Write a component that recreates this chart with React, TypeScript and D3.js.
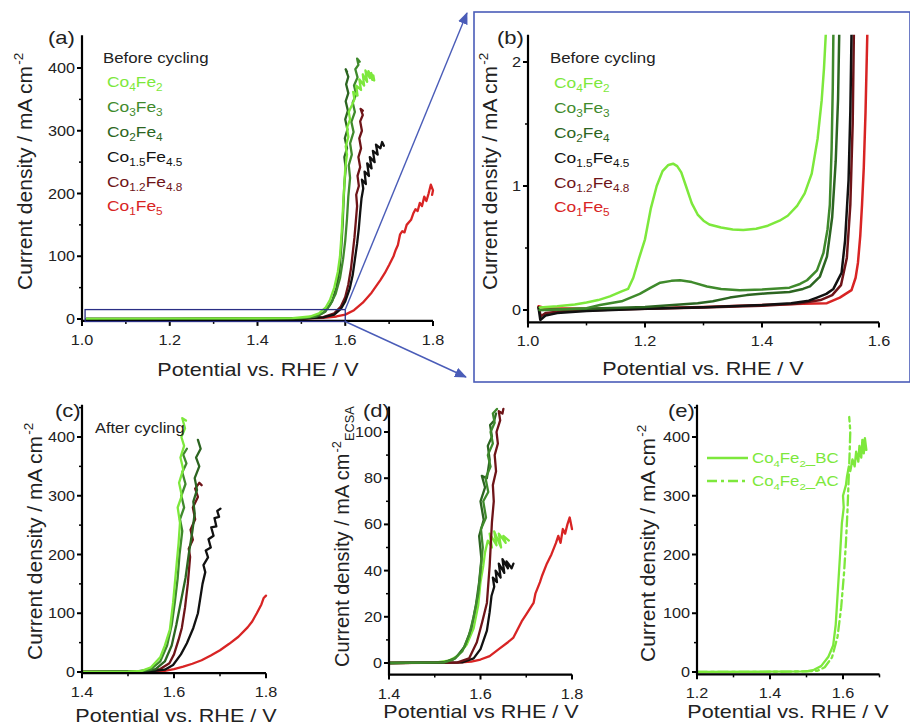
import React from "react";
import * as d3 from "d3";

// ---------------- DATA ----------------
const SERIES = ["Co4Fe2", "Co3Fe3", "Co2Fe4", "Co1.5Fe4.5", "Co1.2Fe4.8", "Co1Fe5"];

// Panel (a) before cycling, full range
const a_Co4Fe2 = [[1.01,0.3],[1.2,0.5],[1.4,0.8],[1.48,1.5],[1.52,4],[1.54,9],[1.555,18],[1.565,30],[1.575,50],[1.583,75],[1.588,100],[1.592,140],[1.595,180],[1.598,215],[1.6,240],[1.604,262],[1.601,275],[1.607,290],[1.604,305],[1.611,318],[1.608,330],[1.616,342],[1.621,350],[1.618,362],[1.628,356],[1.625,372],[1.636,365],[1.632,382],[1.643,372],[1.64,390],[1.65,378],[1.646,396],[1.656,384],[1.653,395],[1.662,381],[1.659,392],[1.666,380],[1.664,388]];
const a_Co3Fe3 = [[1.01,0.2],[1.2,0.3],[1.4,0.6],[1.5,1.5],[1.53,4],[1.55,10],[1.565,22],[1.578,40],[1.588,65],[1.595,95],[1.6,125],[1.604,160],[1.607,195],[1.611,225],[1.608,245],[1.615,262],[1.611,280],[1.619,298],[1.614,314],[1.622,330],[1.617,345],[1.625,358],[1.62,372],[1.628,385],[1.623,398],[1.63,405],[1.627,415],[1.633,410]];
const a_Co2Fe4 = [[1.01,0.2],[1.2,0.3],[1.4,0.5],[1.5,1.2],[1.535,4],[1.555,12],[1.57,28],[1.58,50],[1.587,80],[1.591,115],[1.594,150],[1.596,185],[1.598,215],[1.601,240],[1.598,258],[1.604,272],[1.599,288],[1.605,302],[1.6,318],[1.606,332],[1.601,347],[1.607,360],[1.602,374],[1.607,386],[1.601,398],[1.604,394]];
const a_Co15Fe45 = [[1.01,-0.5],[1.3,0.1],[1.5,0.6],[1.55,2.5],[1.575,7],[1.59,16],[1.6,28],[1.61,48],[1.617,70],[1.622,95],[1.627,120],[1.631,145],[1.634,170],[1.637,192],[1.641,208],[1.638,222],[1.647,215],[1.644,235],[1.654,228],[1.65,248],[1.66,240],[1.656,258],[1.667,250],[1.663,268],[1.674,262],[1.67,278],[1.68,272],[1.684,282],[1.688,276]];
const a_Co12Fe48 = [[1.01,0],[1.3,0.2],[1.5,0.8],[1.55,3],[1.575,9],[1.59,20],[1.6,35],[1.607,55],[1.613,80],[1.617,105],[1.621,130],[1.624,155],[1.627,180],[1.625,198],[1.631,212],[1.628,228],[1.634,242],[1.63,258],[1.636,272],[1.632,288],[1.638,300],[1.634,315],[1.64,325],[1.635,335],[1.64,332]];
const a_Co1Fe5 = [[1.01,-0.5],[1.2,-0.3],[1.4,0],[1.5,0.8],[1.55,2],[1.58,4],[1.6,7],[1.62,14],[1.64,26],[1.66,42],[1.68,62],[1.69,73],[1.7,86],[1.71,100],[1.715,110],[1.72,118],[1.725,135],[1.73,140],[1.735,138],[1.74,150],[1.75,158],[1.755,168],[1.76,175],[1.765,172],[1.77,185],[1.775,180],[1.78,195],[1.785,188],[1.79,200],[1.795,214],[1.8,205],[1.798,198]];

// Panel (b) zoom 1.0–1.6 V
const b_Co4Fe2 = [[1.02,0.02],[1.05,0.03],[1.08,0.045],[1.1,0.06],[1.12,0.08],[1.14,0.11],[1.16,0.15],[1.171,0.17],[1.18,0.26],[1.19,0.42],[1.2,0.57],[1.21,0.82],[1.22,1.0],[1.23,1.12],[1.24,1.17],[1.248,1.18],[1.255,1.16],[1.262,1.11],[1.27,1.0],[1.28,0.86],[1.29,0.77],[1.3,0.72],[1.31,0.69],[1.33,0.665],[1.35,0.65],[1.368,0.645],[1.39,0.655],[1.41,0.68],[1.43,0.72],[1.444,0.76],[1.46,0.84],[1.473,0.94],[1.485,1.1],[1.495,1.38],[1.502,1.69],[1.506,1.95],[1.509,2.22]];
const b_Co3Fe3 = [[1.02,0.0],[1.05,0.005],[1.1,0.015],[1.123,0.04],[1.16,0.07],[1.191,0.13],[1.21,0.18],[1.226,0.22],[1.245,0.235],[1.26,0.24],[1.28,0.225],[1.306,0.19],[1.33,0.17],[1.362,0.16],[1.4,0.165],[1.447,0.18],[1.465,0.21],[1.477,0.24],[1.494,0.32],[1.505,0.46],[1.512,0.65],[1.516,0.85],[1.519,1.3],[1.521,1.8],[1.522,2.22]];
const b_Co2Fe4 = [[1.02,0.0],[1.1,0.01],[1.2,0.025],[1.248,0.04],[1.29,0.055],[1.316,0.07],[1.345,0.1],[1.374,0.12],[1.41,0.135],[1.447,0.145],[1.47,0.17],[1.482,0.19],[1.499,0.27],[1.511,0.43],[1.52,0.75],[1.526,1.2],[1.53,1.7],[1.532,2.22]];
const b_Co15Fe45 = [[1.018,0.02],[1.021,-0.08],[1.03,-0.045],[1.05,-0.025],[1.1,-0.008],[1.2,0.01],[1.3,0.022],[1.4,0.04],[1.45,0.055],[1.48,0.075],[1.494,0.1],[1.51,0.13],[1.522,0.17],[1.536,0.3],[1.542,0.56],[1.548,1.05],[1.551,1.6],[1.553,2.22]];
const b_Co12Fe48 = [[1.018,0.02],[1.022,-0.05],[1.03,-0.025],[1.06,-0.01],[1.15,0.005],[1.3,0.02],[1.4,0.035],[1.46,0.05],[1.5,0.08],[1.52,0.12],[1.535,0.2],[1.545,0.42],[1.551,0.85],[1.555,1.5],[1.557,2.22]];
const b_Co1Fe5 = [[1.018,0.03],[1.03,0.015],[1.1,0.01],[1.2,0.015],[1.3,0.025],[1.4,0.04],[1.47,0.05],[1.511,0.055],[1.533,0.1],[1.553,0.16],[1.56,0.26],[1.564,0.38],[1.568,0.6],[1.571,0.85],[1.574,1.15],[1.577,1.6],[1.58,2.22]];

// Panel (c) after cycling
const c_Co4Fe2 = [[1.4,0],[1.5,0.5],[1.53,2],[1.55,8],[1.57,25],[1.58,45],[1.591,72],[1.598,118],[1.606,186],[1.61,220],[1.613,254],[1.608,280],[1.617,300],[1.611,322],[1.62,345],[1.614,365],[1.622,385],[1.616,400],[1.624,415],[1.618,432],[1.626,428]];
const c_Co3Fe3 = [[1.4,0],[1.52,1],[1.55,5],[1.57,18],[1.585,45],[1.595,80],[1.602,120],[1.608,160],[1.612,200],[1.618,240],[1.613,260],[1.622,280],[1.616,300],[1.625,320],[1.618,340],[1.627,355],[1.62,370],[1.628,380]];
const c_Co2Fe4 = [[1.4,0],[1.53,1],[1.56,5],[1.58,18],[1.595,45],[1.605,80],[1.615,120],[1.625,160],[1.632,200],[1.64,240],[1.645,270],[1.642,290],[1.65,310],[1.645,330],[1.655,350],[1.648,365],[1.658,380],[1.652,395]];
const c_Co15Fe45 = [[1.4,0],[1.55,1],[1.58,4],[1.598,12],[1.615,30],[1.628,49],[1.642,75],[1.652,100],[1.657,125],[1.662,150],[1.668,170],[1.664,182],[1.674,195],[1.669,207],[1.68,212],[1.675,226],[1.686,232],[1.681,246],[1.692,248],[1.688,262],[1.698,264],[1.694,274],[1.701,278]];
const c_Co12Fe48 = [[1.4,0],[1.54,1],[1.57,5],[1.59,15],[1.6,30],[1.61,55],[1.617,75],[1.624,110],[1.63,150],[1.635,196],[1.632,210],[1.641,225],[1.636,242],[1.646,260],[1.641,280],[1.652,298],[1.646,312],[1.655,322],[1.66,318]];
const c_Co1Fe5 = [[1.4,0],[1.55,0.5],[1.58,2],[1.6,5],[1.62,9],[1.64,14],[1.66,20],[1.68,28],[1.7,37],[1.72,48],[1.74,60],[1.76,76],[1.77,86],[1.78,100],[1.79,115],[1.795,126],[1.8,130]];

// Panel (d) ECSA-normalised
const d_Co4Fe2 = [[1.4,0],[1.5,0.2],[1.53,1],[1.55,3],[1.57,8],[1.585,15],[1.595,25],[1.6,35],[1.606,42],[1.61,48],[1.616,53],[1.625,50],[1.62,56],[1.635,51],[1.63,57],[1.645,50],[1.64,56],[1.655,52],[1.65,55],[1.662,53]];
const d_Co3Fe3 = [[1.4,0],[1.52,0.3],[1.54,1.5],[1.56,5],[1.575,12],[1.585,20],[1.595,30],[1.6,40],[1.605,50],[1.601,58],[1.612,63],[1.606,70],[1.617,74],[1.611,80],[1.622,85],[1.616,90],[1.627,95],[1.622,100],[1.631,104],[1.627,108],[1.636,110]];
const d_Co2Fe4 = [[1.4,0],[1.52,0.3],[1.545,2],[1.565,7],[1.58,15],[1.59,25],[1.597,35],[1.602,45],[1.597,55],[1.607,62],[1.6,70],[1.61,76],[1.603,81],[1.614,80],[1.62,88],[1.616,94],[1.625,98],[1.621,103],[1.63,105],[1.634,108]];
const d_Co15Fe45 = [[1.4,0],[1.56,0.3],[1.585,2],[1.6,6],[1.614,14],[1.62,22],[1.624,29],[1.63,33],[1.627,37],[1.636,35],[1.633,40],[1.644,37],[1.64,43],[1.652,39],[1.648,45],[1.66,41],[1.657,44],[1.668,41],[1.672,43]];
const d_Co12Fe48 = [[1.4,0],[1.55,0.3],[1.575,2],[1.592,9],[1.604,18],[1.614,26],[1.62,42],[1.625,61],[1.629,70],[1.627,77],[1.634,83],[1.631,90],[1.638,95],[1.635,100],[1.643,105],[1.64,109],[1.648,108],[1.65,110]];
const d_Co1Fe5 = [[1.4,0],[1.55,0.2],[1.58,0.6],[1.6,1.5],[1.62,3],[1.64,6],[1.66,9],[1.672,11],[1.69,18],[1.7,21],[1.716,26],[1.72,30],[1.73,35],[1.735,38],[1.745,43],[1.755,47],[1.765,52],[1.77,55],[1.775,52],[1.78,58],[1.785,56],[1.79,60],[1.795,63],[1.8,58]];

// Panel (e) Co4Fe2 before / after cycling
const e_BC = [[1.2,0],[1.4,0.5],[1.5,1],[1.518,3],[1.54,10],[1.56,26],[1.573,45],[1.58,80],[1.586,140],[1.592,200],[1.597,254],[1.602,280],[1.6,300],[1.608,318],[1.611,333],[1.616,350],[1.62,342],[1.626,362],[1.632,350],[1.636,375],[1.642,358],[1.645,385],[1.65,365],[1.653,395],[1.657,372],[1.66,390],[1.664,378],[1.66,398],[1.655,383]];
const e_AC = [[1.2,0],[1.45,0.5],[1.53,2],[1.55,8],[1.57,25],[1.585,60],[1.595,110],[1.603,170],[1.608,220],[1.612,270],[1.615,320],[1.618,370],[1.62,410],[1.617,434]];

const LEGEND_E = ["Co4Fe2_BC", "Co4Fe2_AC"];

const A_X_TICKS = [1.0, 1.2, 1.4, 1.6, 1.8];
const A_Y_TICKS = [0, 100, 200, 300, 400];
const B_X_TICKS = [1.0, 1.2, 1.4, 1.6];
const B_Y_TICKS = [0, 1, 2];
const C_X_TICKS = [1.4, 1.6, 1.8];
const D_Y_TICKS = [0, 20, 40, 60, 80, 100];
const E_X_TICKS = [1.2, 1.4, 1.6];

// ---------------- STYLE ----------------
const FONT = "'Liberation Sans', Arial, Helvetica, sans-serif";
const SX = 1.16;
const COLORS: Record<string, string> = {
  "Co4Fe2": "#7de83c",
  "Co3Fe3": "#3f8a2c",
  "Co2Fe4": "#2c6521",
  "Co1.5Fe4.5": "#111111",
  "Co1.2Fe4.8": "#6e1418",
  "Co1Fe5": "#d82424",
};
const BLUE = "#4a5cb8";
const TXT = "#222";

let measureCtx: CanvasRenderingContext2D | null = null;
function measure(text: string, size: number): number {
  if (!measureCtx && typeof document !== "undefined") {
    measureCtx = document.createElement("canvas").getContext("2d");
  }
  if (!measureCtx) return text.length * size * 0.5;
  measureCtx.font = `${size}px 'Liberation Sans', Arial, sans-serif`;
  return measureCtx.measureText(text).width;
}

function HText({ x, y, size, anchor = "start", fill = TXT, children }: any) {
  return (
    <text transform={`translate(${x},${y}) scale(${SX},1)`} fontSize={size} textAnchor={anchor} fill={fill} fontFamily={FONT}>
      {children}
    </text>
  );
}

function Formula({ name, size }: { name: string; size: number }) {
  const m = name.match(/^Co([\d.]+)Fe([\d.]+)(.*)$/);
  if (!m) return <tspan>{name}</tspan>;
  const s = size * 0.68;
  const dd = size * 0.28;
  return (
    <>
      <tspan>Co</tspan>
      <tspan fontSize={s} dy={dd}>{m[1]}</tspan>
      <tspan dy={-dd}>Fe</tspan>
      <tspan fontSize={s} dy={dd}>{m[2]}</tspan>
      {m[3] ? <tspan dy={-dd}>{m[3]}</tspan> : null}
    </>
  );
}

type PanelCfg = {
  x: d3.ScaleLinear<number, number>;
  y: d3.ScaleLinear<number, number>;
  xMin: number; xMax: number; yMin: number; yMax: number;
  xMajor: number[]; xMinor: number[]; yMajor: number[]; yMinor: number[];
  xFmt: (v: number) => string; yFmt: (v: number) => string;
};

function Axes({ c }: { c: PanelCfg }) {
  const x0 = c.x(c.xMin), x1 = c.x(c.xMax);
  const y0 = c.y(c.yMin), y1 = c.y(c.yMax);
  return (
    <g>
      <line x1={x0} x2={x0} y1={y0 + 1} y2={y1} stroke="#000" strokeWidth={2.2} />
      <line x1={x0 - 1} x2={x1} y1={y0} y2={y0} stroke="#000" strokeWidth={2.2} />
      {c.xMajor.map((v) => (
        <g key={"xm" + v}>
          <line x1={c.x(v)} x2={c.x(v)} y1={y0} y2={y0 + 5} stroke="#000" strokeWidth={2} />
          <HText x={c.x(v)} y={y0 + 24} size={14} anchor="middle">{c.xFmt(v)}</HText>
        </g>
      ))}
      {c.xMinor.map((v) => (
        <line key={"xn" + v} x1={c.x(v)} x2={c.x(v)} y1={y0} y2={y0 + 3} stroke="#000" strokeWidth={1.5} />
      ))}
      {c.yMajor.map((v) => (
        <g key={"ym" + v}>
          <line x1={x0} x2={x0 - 5} y1={c.y(v)} y2={c.y(v)} stroke="#000" strokeWidth={2} />
          <HText x={x0 - 7} y={c.y(v) + 5} size={14} anchor="end">{c.yFmt(v)}</HText>
        </g>
      ))}
      {c.yMinor.map((v) => (
        <line key={"yn" + v} x1={x0} x2={x0 - 3} y1={c.y(v)} y2={c.y(v)} stroke="#000" strokeWidth={1.5} />
      ))}
    </g>
  );
}

function Curve({ data, c, color, width = 2.3, dash }: any) {
  const line = d3.line<number[]>().x((d) => c.x(d[0])).y((d) => c.y(d[1]));
  return <path d={line(data) || ""} fill="none" stroke={color} strokeWidth={width} strokeLinejoin="round" strokeLinecap="round" strokeDasharray={dash} />;
}

// Rotated y-axis title: baseline at screen x, text starts at screen y (reads upward)
function YTitle({ x, y, size = 21, ecsa = false }: { x: number; y: number; size?: number; ecsa?: boolean }) {
  const main = "Current density / mA cm";
  const supSize = size * 0.64;
  const mainLen = measure(main, size);
  const supLen = measure("-2", supSize);
  return (
    <g fill={TXT} fontFamily={FONT}>
      <text transform={`translate(${x},${y}) rotate(-90)`} fontSize={size}>{main}</text>
      <text transform={`translate(${x - size * 0.42},${y - mainLen}) rotate(-90)`} fontSize={supSize}>-2</text>
      {ecsa ? (
        <text transform={`translate(${x + size * 0.25},${y - mainLen - supLen}) rotate(-90)`} fontSize={supSize}>ECSA</text>
      ) : null}
    </g>
  );
}

const fmt1 = d3.format(".1f");
const fmtInt = (v: number) => String(v);

export default function App() {
  const A: PanelCfg = {
    x: d3.scaleLinear().domain([1.0, 1.8]).range([82, 433]),
    y: d3.scaleLinear().domain([0, 400]).range([319, 68]),
    xMin: 1.0, xMax: 1.8, yMin: -3, yMax: 452,
    xMajor: A_X_TICKS, xMinor: [1.1, 1.3, 1.5, 1.7], yMajor: A_Y_TICKS, yMinor: [50, 150, 250, 350],
    xFmt: fmt1, yFmt: fmtInt,
  };
  const B: PanelCfg = {
    x: d3.scaleLinear().domain([1.0, 1.6]).range([528, 879]),
    y: d3.scaleLinear().domain([0, 2]).range([310, 62]),
    xMin: 1.0, xMax: 1.6, yMin: -0.1, yMax: 2.22,
    xMajor: B_X_TICKS, xMinor: [1.1, 1.3, 1.5], yMajor: B_Y_TICKS, yMinor: [0.5, 1.5],
    xFmt: fmt1, yFmt: fmtInt,
  };
  const C: PanelCfg = {
    x: d3.scaleLinear().domain([1.4, 1.8]).range([82, 266]),
    y: d3.scaleLinear().domain([0, 400]).range([672, 437]),
    xMin: 1.4, xMax: 1.8, yMin: -2, yMax: 455,
    xMajor: C_X_TICKS, xMinor: [1.5, 1.7], yMajor: A_Y_TICKS, yMinor: [50, 150, 250, 350, 450],
    xFmt: fmt1, yFmt: fmtInt,
  };
  const D: PanelCfg = {
    x: d3.scaleLinear().domain([1.4, 1.8]).range([389, 572]),
    y: d3.scaleLinear().domain([0, 100]).range([663, 432]),
    xMin: 1.4, xMax: 1.8, yMin: -5, yMax: 111,
    xMajor: C_X_TICKS, xMinor: [1.5, 1.7], yMajor: D_Y_TICKS, yMinor: [10, 30, 50, 70, 90, 110],
    xFmt: fmt1, yFmt: fmtInt,
  };
  const E: PanelCfg = {
    x: d3.scaleLinear().domain([1.2, 1.6]).range([697, 843]),
    y: d3.scaleLinear().domain([0, 400]).range([672, 437]),
    xMin: 1.2, xMax: 1.7, yMin: -4, yMax: 455,
    xMajor: E_X_TICKS, xMinor: [1.3, 1.5, 1.7], yMajor: A_Y_TICKS, yMinor: [50, 150, 250, 350, 450],
    xFmt: fmt1, yFmt: fmtInt,
  };

  const aData = [a_Co1Fe5, a_Co12Fe48, a_Co15Fe45, a_Co2Fe4, a_Co3Fe3, a_Co4Fe2];
  const bData = [b_Co1Fe5, b_Co12Fe48, b_Co15Fe45, b_Co2Fe4, b_Co3Fe3, b_Co4Fe2];
  const cData = [c_Co1Fe5, c_Co12Fe48, c_Co15Fe45, c_Co2Fe4, c_Co3Fe3, c_Co4Fe2];
  const dData = [d_Co1Fe5, d_Co4Fe2, d_Co15Fe45, d_Co12Fe48, d_Co2Fe4, d_Co3Fe3];
  const aNames = ["Co1Fe5", "Co1.2Fe4.8", "Co1.5Fe4.5", "Co2Fe4", "Co3Fe3", "Co4Fe2"];
  const dNames = ["Co1Fe5", "Co4Fe2", "Co1.5Fe4.5", "Co1.2Fe4.8", "Co2Fe4", "Co3Fe3"];

  const legendBaselines = [87, 112, 137, 162, 187, 211];

  return (
    <svg width={910} height={728} style={{ position: "absolute", left: 0, top: 0, background: "#fff" }}>
      <defs>
        <marker id="arr" markerUnits="userSpaceOnUse" markerWidth={12} markerHeight={10} refX={11} refY={5} orient="auto">
          <path d="M0,0 L12,5 L0,10 z" fill={BLUE} />
        </marker>
        <clipPath id="clipB">
          <rect x={528} y={B.y(2.22)} width={360} height={B.y(-0.1) - B.y(2.22)} />
        </clipPath>
      </defs>
      <rect x={0} y={0} width={910} height={728} fill="#fff" />

      {/* ---------- Panel (a) ---------- */}
      {aData.map((d, i) => (
        <Curve key={"a" + i} data={d} c={A} color={COLORS[aNames[i]]} />
      ))}
      <Axes c={A} />
      <rect x={A.x(1.007)} y={A.y(15)} width={A.x(1.6) - A.x(1.007)} height={A.y(-4) - A.y(15)} fill="none" stroke="#2a2f85" strokeWidth={1.3} />
      <HText x={48} y={44} size={19}>(a)</HText>
      <YTitle x={32} y={290} />
      <HText x={258} y={376} size={18.6} anchor="middle">Potential vs. RHE / V</HText>
      <HText x={103} y={63} size={14.5}>Before cycling</HText>
      {SERIES.map((s, i) => (
        <HText key={"la" + s} x={107} y={legendBaselines[i]} size={15} fill={COLORS[s]}>
          <Formula name={s} size={15} />
        </HText>
      ))}

      {/* arrows */}
      <line x1={A.x(1.6)} y1={A.y(15)} x2={467} y2={13} stroke={BLUE} strokeWidth={1.4} markerEnd="url(#arr)" />
      <line x1={A.x(1.6)} y1={A.y(-4)} x2={466} y2={377} stroke={BLUE} strokeWidth={1.4} markerEnd="url(#arr)" />

      {/* ---------- Panel (b) ---------- */}
      <rect x={474} y={12} width={436} height={370} fill="none" stroke={BLUE} strokeWidth={1.6} />
      <g clipPath="url(#clipB)">
        {bData.map((d, i) => (
          <Curve key={"b" + i} data={d} c={B} color={COLORS[aNames[i]]} width={2.5} />
        ))}
      </g>
      <Axes c={B} />
      <HText x={497} y={44} size={19}>(b)</HText>
      <YTitle x={497} y={290} />
      <HText x={703} y={375} size={18.6} anchor="middle">Potential vs. RHE / V</HText>
      <HText x={550} y={63} size={14.5}>Before cycling</HText>
      {SERIES.map((s, i) => (
        <HText key={"lb" + s} x={554} y={legendBaselines[i] + 1} size={15} fill={COLORS[s]}>
          <Formula name={s} size={15} />
        </HText>
      ))}

      {/* ---------- Panel (c) ---------- */}
      {cData.map((d, i) => (
        <Curve key={"c" + i} data={d} c={C} color={COLORS[aNames[i]]} />
      ))}
      <Axes c={C} />
      <HText x={55} y={417} size={19}>(c)</HText>
      <HText x={95} y={433} size={14.2}>After cycling</HText>
      <YTitle x={42} y={660} />
      <HText x={176} y={722} size={18.6} anchor="middle">Potential vs. RHE / V</HText>

      {/* ---------- Panel (d) ---------- */}
      {dData.map((d, i) => (
        <Curve key={"d" + i} data={d} c={D} color={COLORS[dNames[i]]} />
      ))}
      <Axes c={D} />
      <HText x={363} y={417} size={19}>(d)</HText>
      <YTitle x={349} y={667} size={20} ecsa />
      <HText x={481} y={718} size={18.6} anchor="middle">Potential vs RHE / V</HText>

      {/* ---------- Panel (e) ---------- */}
      <Curve data={e_AC} c={E} color={COLORS["Co4Fe2"]} width={2.3} dash="10,4,3,4" />
      <Curve data={e_BC} c={E} color={COLORS["Co4Fe2"]} width={2.3} />
      <Axes c={E} />
      <HText x={668} y={417} size={19}>(e)</HText>
      <YTitle x={655} y={662} />
      <HText x={788} y={718} size={18.6} anchor="middle">Potential vs. RHE / V</HText>
      {LEGEND_E.map((s, i) => (
        <g key={"le" + s}>
          <line x1={707} x2={748} y1={458 + i * 23} y2={458 + i * 23} stroke={COLORS["Co4Fe2"]} strokeWidth={2.4} strokeDasharray={i === 1 ? "10,4,3,4" : undefined} />
          <HText x={752} y={463 + i * 23} size={14.5} fill={COLORS["Co4Fe2"]}>
            <Formula name={s} size={14.5} />
          </HText>
        </g>
      ))}
    </svg>
  );
}
